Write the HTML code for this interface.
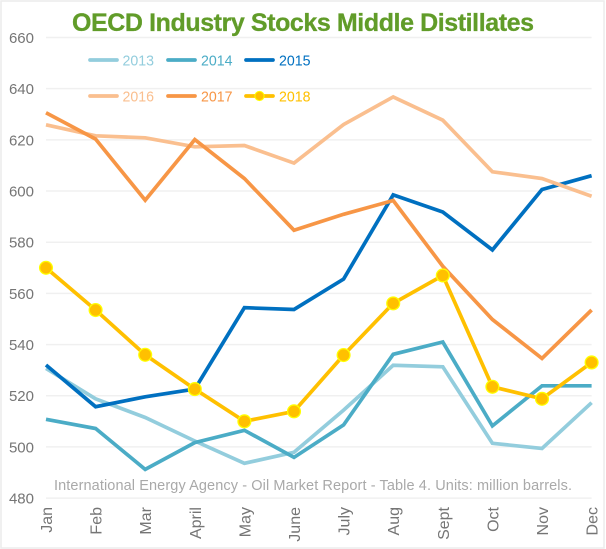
<!DOCTYPE html>
<html lang="en">
<head>
<meta charset="utf-8">
<title>OECD Industry Stocks Middle Distillates</title>
<style>
html,body{margin:0;padding:0;background:#fff;width:606px;height:549px;overflow:hidden}
svg{display:block;font-family:"Liberation Sans",sans-serif}
</style>
</head>
<body>
<svg id="chart" xmlns="http://www.w3.org/2000/svg" width="606" height="549" viewBox="0 0 606 549">
  <rect x="1" y="1" width="603" height="547" fill="#fff" stroke="#ececec" stroke-width="1.5"/>
  <text x="72" y="31" font-size="25" font-weight="bold" fill="#619c29" stroke="#619c29" stroke-width="0.3" textLength="462" lengthAdjust="spacing">OECD Industry Stocks Middle Distillates</text>
  <g id="grid"></g>
  <g id="yaxis"></g>
  <g id="xaxis"></g>
  <text x="54" y="490" font-size="14.5" fill="#a9a9a9" textLength="518" lengthAdjust="spacing">International Energy Agency - Oil Market Report - Table 4. Units: million barrels.</text>
  <g id="series"></g>
  <g id="legend"></g>
</svg>
<script>
const months = ['Jan','Feb','Mar','April','May','June','July','Aug','Sept','Oct','Nov','Dec'];
const yTicks = [480,500,520,540,560,580,600,620,640,660];
const values2013 = [530.7,518.8,511.5,502.3,493.6,497.9,514.4,531.9,531.3,501.4,499.4,517.3];
const values2014 = [510.8,507.2,491.2,501.7,506.5,495.9,508.6,536.2,541,508.2,523.9,523.9];
const values2015 = [532,515.7,519.6,522.6,554.4,553.7,565.6,598.5,591.8,577,600.6,606];
const values2016 = [625.9,621.6,620.8,617.3,617.8,610.9,626,636.8,627.7,607.5,604.9,598];
const values2017 = [630.6,620.3,596.4,620.1,604.9,584.7,590.9,596.3,570.6,549.8,534.6,553.5];
const values2018 = [570,553.5,536,522.6,510,513.9,535.9,556.1,567,523.5,518.8,533];
const seriesNames = ['2013','2014','2015','2016','2017','2018'];
const seriesValues = [values2013,values2014,values2015,values2016,values2017,values2018];
const seriesColors = ['#93cddd','#4bacc6','#0070c0','#fabf8f','#f79646','#ffc000'];

const NS = 'http://www.w3.org/2000/svg';
const xLeft = 46, xRight = 591.6, yBottom = 498.1, yTop = 37.5;
const vMin = 480, vMax = 660;
function xAt(i){ return xLeft + i * (xRight - xLeft) / (months.length - 1); }
function yAt(v){ return yBottom - (v - vMin) * (yBottom - yTop) / (vMax - vMin); }
function make(tag, parent, attrs){
  const el = document.createElementNS(NS, tag);
  for (const k in attrs) el.setAttribute(k, attrs[k]);
  parent.appendChild(el);
  return el;
}
const grid = document.getElementById('grid');
const yaxis = document.getElementById('yaxis');
const xaxis = document.getElementById('xaxis');
const seriesG = document.getElementById('series');
const legend = document.getElementById('legend');

yTicks.forEach(function(t){
  const line = make('line', grid, {x1:xLeft, x2:xRight, y1:yAt(t), y2:yAt(t), stroke:'#f0f0f0', 'stroke-width':1.5});
  
  
  const label = make('text', yaxis, {x:34, y:yAt(t)+5.5, 'text-anchor':'end', 'font-size':15, fill:'#757575'});
  
  
  label.textContent = t;
});

months.forEach(function(m, i){
  const bx = xAt(i) + 6;
  const label = make('text', xaxis, {x:bx, y:507, 'text-anchor':'end', 'font-size':16, fill:'#757575', transform:'rotate(-90 '+bx+' 507)'});
  
  
  label.textContent = m;
});

seriesValues.forEach(function(vals, s){
  const pts = vals.map(function(v, i){ return xAt(i).toFixed(1) + ',' + yAt(v).toFixed(1); }).join(' ');
  const line = make('polyline', seriesG, {points:pts, fill:'none', stroke:seriesColors[s], 'stroke-width':3.7, 'stroke-linejoin':'miter'});
  
  
});
values2018.forEach(function(v, i){
  const dot = make('circle', seriesG, {cx:xAt(i), cy:yAt(v), r:6.4, fill:'#ffc000', stroke:'#ffff00', 'stroke-width':1.3});
  
  
});

const legendColumns = [[89,122.5],[167,201],[245,279]];
const legendRows = [60,96];
seriesNames.forEach(function(name, s){
  const col = legendColumns[s % 3];
  const rowY = legendRows[Math.floor(s / 3)];
  const swatch = make('line', legend, {x1:col[0]+1, x2:col[0]+28, y1:rowY, y2:rowY, stroke:seriesColors[s], 'stroke-width':3.7, 'stroke-linecap':'round'});
  
  
  if (name === '2018') {
    const dot = make('circle', legend, {cx:col[0]+14.5, cy:rowY, r:4.6, fill:'#ffc000', stroke:'#ffff00', 'stroke-width':1});
    
    
  }
  const label = make('text', legend, {x:col[1], y:rowY+5.5, 'font-size':15, fill:seriesColors[s], textLength:31.5, lengthAdjust:'spacingAndGlyphs'});
  
  
  label.textContent = name;
});
</script>
</body>
</html>
